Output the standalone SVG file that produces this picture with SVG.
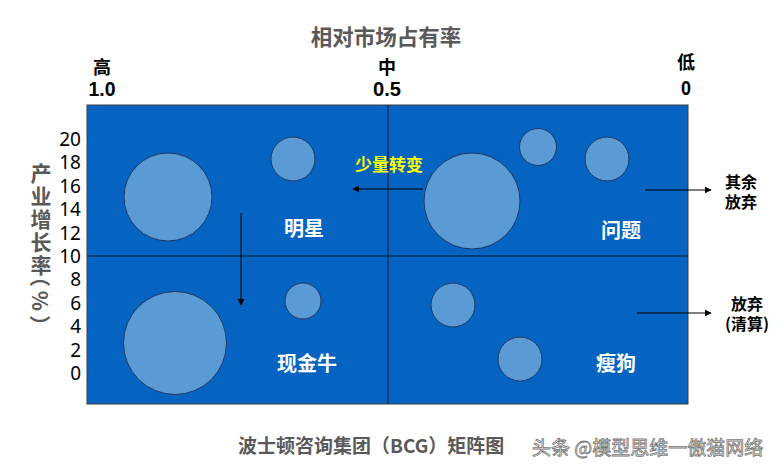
<svg xmlns="http://www.w3.org/2000/svg" width="784" height="474" viewBox="0 0 784 474">
<defs>
<marker id="ah" viewBox="0 0 10 10" refX="9" refY="5" markerWidth="7" markerHeight="7" orient="auto" markerUnits="userSpaceOnUse">
<path d="M0,0 L10,5 L0,10 Z" fill="#000"/>
</marker>
<style>
.cjk{font-family:"Noto Sans CJK SC","Noto Sans",sans-serif;}
.gray{fill:#595959;font-weight:bold;}
.yl{font-size:21px;text-anchor:middle;dominant-baseline:central;}
.axis{fill:#000;font-weight:bold;font-size:18px;text-anchor:middle;}
.dig{font-family:"Liberation Sans",Arial,sans-serif;fill:#000;font-weight:bold;font-size:21px;text-anchor:middle;}
.num{font-family:"Noto Sans","Open Sans",sans-serif;font-size:19px;fill:#000;text-anchor:end;dominant-baseline:central;}
.bub{fill:#5B9BD5;stroke:#1F3864;stroke-width:1;}
.quad{fill:#fff;font-weight:bold;font-size:20px;text-anchor:middle;dominant-baseline:central;}
.side{fill:#000;font-weight:bold;font-size:16px;text-anchor:middle;dominant-baseline:central;}
.con{stroke:#000;stroke-width:1;fill:none;}
</style>
</defs>
<rect width="784" height="474" fill="#fff"/>

<text class="cjk gray" x="386" y="35" font-size="21.5" text-anchor="middle" dominant-baseline="central">相对市场占有率</text>

<g id="xaxis">
<text class="cjk axis" x="102" y="66" dominant-baseline="central">高</text>
<text class="dig" x="102" y="96" textLength="27" lengthAdjust="spacingAndGlyphs">1.0</text>
<text class="cjk axis" x="387" y="66" dominant-baseline="central">中</text>
<text class="dig" x="387" y="96" textLength="28" lengthAdjust="spacingAndGlyphs">0.5</text>
<text class="cjk axis" x="686" y="61" dominant-baseline="central">低</text>
<text class="dig" x="686" y="95" textLength="10" lengthAdjust="spacingAndGlyphs">0</text>
</g>

<g id="matrix">
<rect x="87" y="105" width="601" height="299" fill="#0563C1" stroke="#404040" stroke-width="1"/>
<line x1="388" y1="105" x2="388" y2="404" stroke="#0a1a33" stroke-width="1"/>
<line x1="87" y1="256" x2="688" y2="256" stroke="#0a1a33" stroke-width="1"/>
</g>

<g id="yaxis">
<text class="num" x="81" y="139">20</text>
<text class="num" x="81" y="162.4">18</text>
<text class="num" x="81" y="185.8">16</text>
<text class="num" x="81" y="209.2">14</text>
<text class="num" x="81" y="232.6">12</text>
<text class="num" x="81" y="256">10</text>
<text class="num" x="81" y="279.4">8</text>
<text class="num" x="81" y="302.8">6</text>
<text class="num" x="81" y="326.2">4</text>
<text class="num" x="81" y="349.6">2</text>
<text class="num" x="81" y="373">0</text>
<text class="cjk gray yl"><tspan x="41" y="172">产</tspan><tspan x="41" y="195">业</tspan><tspan x="41" y="218">增</tspan><tspan x="41" y="241">长</tspan><tspan x="41" y="264">率</tspan></text>
<text class="cjk gray yl" x="41" y="303" font-size="19" letter-spacing="4" transform="rotate(90 41 303)">（%）</text>
</g>

<g id="star">
<circle class="bub" cx="168" cy="197" r="44"/>
<circle class="bub" cx="293" cy="159" r="22"/>
<text class="cjk quad" x="304" y="227">明星</text>
</g>
<g id="cashcow">
<circle class="bub" cx="175" cy="343" r="51.5"/>
<circle class="bub" cx="303" cy="301" r="18"/>
<text class="cjk quad" x="307" y="362">现金牛</text>
</g>
<g id="question">
<circle class="bub" cx="472" cy="201" r="48"/>
<circle class="bub" cx="538" cy="147" r="18.5"/>
<circle class="bub" cx="607" cy="159" r="22"/>
<text class="cjk quad" x="621" y="229">问题</text>
</g>
<g id="dog">
<circle class="bub" cx="453" cy="305" r="22"/>
<circle class="bub" cx="520" cy="359" r="22"/>
<text class="cjk quad" x="616" y="362">瘦狗</text>
</g>

<g id="connectors">
<line class="con" x1="423" y1="189" x2="353" y2="189" marker-end="url(#ah)"/>
<line class="con" x1="241" y1="213" x2="241" y2="305" marker-end="url(#ah)"/>
<line class="con" x1="645" y1="190" x2="711" y2="190" marker-end="url(#ah)"/>
<line class="con" x1="637" y1="313" x2="711" y2="313" marker-end="url(#ah)"/>
</g>

<g id="labels">
<text class="cjk" x="389" y="163" font-size="17" font-weight="bold" fill="#FFFF00" text-anchor="middle" dominant-baseline="central">少量转变</text>
<text class="cjk side"><tspan x="741" y="181">其余</tspan><tspan x="741" y="201">放弃</tspan></text>
<text class="cjk side"><tspan x="747" y="303">放弃</tspan><tspan x="747" y="323">(清算)</tspan></text>
</g>

<text class="cjk gray" x="238" y="444" font-size="19" dominant-baseline="central">波士顿咨询集团（BCG）矩阵图</text>
<text class="cjk" x="532" y="446" font-size="19" fill="#fff" stroke="#777" stroke-width="0.8" dominant-baseline="central">头条 @模型思维一傲猫网络</text>
</svg>
